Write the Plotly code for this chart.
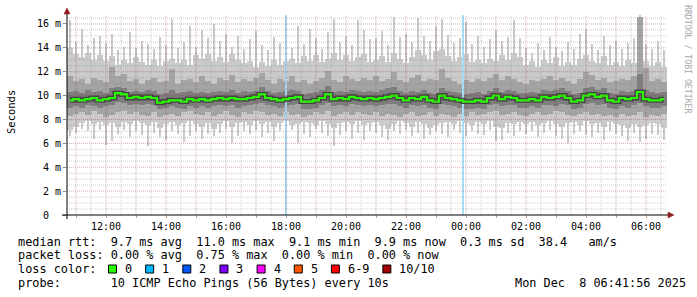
import pandas as pd
import plotly.graph_objects as go

# ---------------- data ----------------
START = "2025-12-07 10:42"
END = "2025-12-08 06:42"
SLOT_MIN = 12          # each value covers a 12-minute slot
Y_MAX = 16.75          # upper limit of the value axis (ms)

median_ms = [
    9.6, 9.7, 9.6, 9.7, 9.8, 9.6, 9.7, 9.8, 10.2, 10.1,
    9.8, 9.9, 9.8, 9.9, 9.8, 9.4, 9.5, 9.6, 9.6, 9.5,
    9.7, 9.6, 9.7, 9.6, 9.7, 9.8, 9.7, 9.8, 9.7, 9.7,
    9.8, 9.9, 10.1, 9.8, 9.7, 9.6, 9.7, 9.8, 9.9, 9.5,
    9.5, 9.6, 9.8, 10.1, 9.7, 9.8, 9.7, 9.9, 9.8, 9.7,
    9.8, 9.7, 9.8, 9.9, 10.0, 9.8, 9.6, 9.8, 9.7, 9.9,
    9.6, 9.5, 10.0, 9.8, 9.7, 9.6, 9.5, 9.5, 9.6, 9.5,
    9.8, 10.0, 9.7, 9.9, 9.8, 9.6, 9.6, 9.7, 9.6, 9.9,
    9.8, 9.9, 10.0, 9.8, 9.5, 9.6, 10.0, 10.1, 9.9, 10.0,
    9.6, 9.5, 9.8, 9.7, 9.8, 10.3, 9.7, 9.6, 9.6, 9.7,
]

# outer smoke (min..max ping, typical extent per slot)
smoke_hi1 = [
    14.0, 13.5, 13.2, 13.6, 13.0, 13.4, 12.9, 13.3, 12.6, 13.0,
    12.7, 13.2, 12.8, 12.6, 13.0, 12.5, 12.9, 13.1, 12.7, 13.0,
    12.6, 13.4, 13.1, 13.5, 12.9, 13.2, 12.8, 13.5, 13.0, 12.7,
    12.9, 12.4, 12.8, 12.5, 13.0, 12.6, 12.9, 13.1, 12.7, 13.3,
    12.9, 13.4, 12.8, 13.1, 13.6, 13.0, 13.4, 12.9, 13.2, 13.5,
    12.8, 13.0, 13.3, 12.8, 13.6, 13.1, 12.7, 13.2, 13.8, 13.4,
    13.0, 13.7, 13.9, 13.3, 12.9, 13.2, 13.5, 12.8, 13.0, 12.7,
    13.1, 12.9, 13.4, 13.0, 13.6, 13.2, 12.6, 12.9, 12.4, 13.0,
    12.7, 13.2, 12.5, 12.8, 12.6, 13.1, 13.4, 12.9, 12.7, 13.3,
    12.6, 12.8, 12.5, 13.0, 12.7, 14.0, 12.9, 12.5, 12.8, 12.4,
]
smoke_lo1 = [
    7.1, 7.4, 7.7, 7.9, 7.6, 7.8, 7.5, 7.7, 7.4, 7.8,
    7.6, 7.9, 7.7, 7.5, 7.8, 7.3, 7.6, 7.8, 7.5, 7.7,
    7.9, 7.6, 7.4, 7.7, 7.2, 7.6, 7.9, 7.4, 7.7, 7.8,
    7.5, 7.9, 7.6, 7.8, 7.4, 7.7, 7.9, 7.5, 7.6, 7.8,
    7.7, 7.5, 7.9, 7.6, 7.3, 7.7, 7.8, 7.6, 7.9, 7.5,
    7.7, 7.8, 7.5, 7.2, 7.6, 7.9, 7.7, 7.4, 7.8, 7.6,
    7.3, 7.5, 7.7, 7.8, 7.6, 7.9, 7.7, 7.5, 7.8, 7.6,
    7.9, 7.4, 7.3, 7.7, 7.6, 7.8, 7.6, 7.8, 7.5, 7.7,
    7.9, 7.6, 7.4, 7.7, 7.8, 7.5, 7.9, 7.6, 7.7, 7.4,
    7.8, 7.6, 7.5, 7.3, 7.6, 7.4, 7.5, 7.7, 7.6, 7.3,
]
# single-sample extremes inside each slot (thin spikes)
spike_peak = [
    16.3, 14.5, 15.6, 14.2, 14.8, 15.0, 14.4, 15.2, 13.8, 14.1,
    15.3, 14.0, 14.6, 14.3, 13.9, 14.9, 14.2, 16.4, 14.0, 14.5,
    15.8, 14.1, 15.5, 14.8, 16.0, 14.6, 15.2, 14.1, 15.0, 13.9,
    14.7, 15.4, 14.2, 13.8, 14.9, 14.4, 15.1, 14.0, 15.8, 14.3,
    15.6, 14.8, 13.9, 15.3, 16.4, 14.5, 15.0, 14.2, 16.3, 15.5,
    14.7, 14.8, 15.4, 14.2, 16.6, 14.9, 15.2, 14.5, 16.5, 15.0,
    14.6, 15.8, 16.4, 15.1, 14.4, 14.8, 16.2, 14.3, 15.0, 14.1,
    14.7, 15.5, 14.6, 14.9, 16.3, 14.8, 14.0, 13.6, 14.4, 13.8,
    14.9, 14.1, 13.7, 14.5, 13.9, 15.2, 15.6, 14.3, 13.8, 15.0,
    14.2, 14.6, 13.9, 14.4, 14.8, 16.8, 14.3, 13.9, 14.6, 13.8,
]
spike_trough = [
    6.6, 6.9, 7.2, 7.0, 6.4, 7.1, 5.9, 6.2, 6.8, 7.1,
    6.5, 7.0, 6.7, 5.8, 6.9, 6.5, 6.3, 7.0, 6.8, 6.1,
    6.6, 7.0, 6.4, 6.8, 6.6, 6.9, 7.2, 6.0, 6.6, 7.0,
    6.8, 7.1, 6.5, 6.9, 6.2, 7.0, 6.7, 7.1, 6.0, 6.8,
    6.5, 7.2, 6.9, 6.6, 5.8, 6.7, 7.0, 6.4, 6.9, 6.3,
    7.0, 6.9, 6.5, 6.3, 7.0, 6.8, 7.1, 6.6, 6.9, 6.4,
    6.7, 7.0, 6.8, 6.5, 7.1, 6.9, 6.6, 7.0, 6.8, 6.7,
    7.1, 6.2, 6.3, 6.9, 6.6, 7.0, 6.8, 7.0, 6.5, 6.9,
    7.1, 6.6, 6.4, 6.0, 6.8, 7.0, 6.7, 6.5, 6.9, 6.3,
    7.0, 6.8, 6.6, 6.2, 6.9, 6.1, 6.4, 6.8, 6.7, 6.3,
]
# middle smoke (2nd..9th ping)
smoke_hi2 = [
    11.6, 11.2, 11.4, 11.0, 11.5, 11.3, 11.1, 12.4, 11.6, 11.8,
    11.2, 11.4, 11.0, 11.3, 11.5, 11.1, 11.2, 12.2, 11.0, 11.3,
    11.4, 11.1, 11.6, 11.2, 11.0, 11.5, 11.3, 11.7, 11.1, 11.4,
    11.2, 11.5, 11.9, 11.3, 11.0, 11.4, 11.2, 11.6, 11.1, 11.3,
    11.0, 11.2, 11.5, 12.1, 11.3, 11.1, 11.6, 11.4, 11.2, 11.5,
    11.3, 11.6, 11.2, 11.4, 12.0, 11.3, 11.1, 11.5, 11.7, 11.2,
    11.4, 11.3, 12.2, 11.5, 11.2, 11.0, 11.3, 11.1, 11.4, 11.2,
    11.5, 11.8, 11.3, 11.6, 11.4, 11.1, 11.0, 11.3, 11.2, 11.4,
    11.6, 11.3, 11.5, 11.2, 11.0, 11.4, 12.0, 11.7, 11.3, 11.5,
    11.1, 11.2, 11.4, 11.3, 11.6, 16.6, 12.3, 11.2, 11.4, 11.1,
]
smoke_lo2 = [
    8.3, 8.5, 8.6, 8.4, 8.7, 8.5, 8.2, 8.4, 8.6, 8.7,
    8.5, 8.6, 8.4, 8.3, 8.6, 8.2, 8.4, 8.5, 8.3, 8.6,
    8.7, 8.5, 8.4, 8.6, 8.3, 8.5, 8.7, 8.4, 8.2, 8.6,
    8.5, 8.7, 8.6, 8.4, 8.5, 8.3, 8.6, 8.4, 8.5, 8.2,
    8.4, 8.6, 8.5, 8.7, 8.3, 8.5, 8.6, 8.4, 8.6, 8.5,
    8.4, 8.6, 8.3, 8.5, 8.4, 8.2, 8.5, 8.6, 8.3, 8.4,
    8.6, 8.3, 8.5, 8.4, 8.2, 8.5, 8.3, 8.6, 8.4, 8.5,
    8.6, 8.7, 8.4, 8.5, 8.6, 8.4, 8.3, 8.5, 8.6, 8.4,
    8.5, 8.7, 8.6, 8.4, 8.3, 8.5, 8.6, 8.4, 8.5, 8.3,
    8.4, 8.2, 8.5, 8.3, 8.4, 8.6, 8.2, 8.4, 8.3, 8.5,
]
# inner smoke (3rd..8th ping)
smoke_hi3 = [
    10.3, 10.4, 10.2, 10.5, 10.3, 10.4, 10.2, 10.6, 10.7, 10.6,
    10.3, 10.4, 10.3, 10.5, 10.4, 10.1, 10.2, 10.5, 10.2, 10.3,
    10.4, 10.2, 10.3, 10.2, 10.3, 10.4, 10.3, 10.5, 10.2, 10.4,
    10.3, 10.4, 10.7, 10.4, 10.2, 10.3, 10.4, 10.5, 10.4, 10.1,
    10.2, 10.3, 10.5, 10.8, 10.3, 10.4, 10.3, 10.5, 10.4, 10.3,
    10.4, 10.3, 10.5, 10.6, 10.7, 10.4, 10.2, 10.4, 10.3, 10.5,
    10.2, 10.1, 10.6, 10.4, 10.3, 10.2, 10.1, 10.2, 10.3, 10.1,
    10.4, 10.6, 10.3, 10.5, 10.4, 10.2, 10.2, 10.3, 10.2, 10.5,
    10.4, 10.5, 10.6, 10.4, 10.1, 10.2, 10.6, 10.7, 10.5, 10.6,
    10.2, 10.1, 10.4, 10.3, 10.4, 11.8, 10.5, 10.3, 10.2, 10.3,
]
smoke_lo3 = [
    9.0, 9.1, 9.0, 9.2, 9.1, 9.0, 9.1, 9.2, 9.5, 9.4,
    9.2, 9.3, 9.2, 9.3, 9.2, 8.9, 9.0, 9.1, 9.0, 8.9,
    9.1, 9.0, 9.1, 9.0, 9.1, 9.2, 9.1, 9.2, 9.0, 9.1,
    9.2, 9.3, 9.4, 9.2, 9.1, 9.0, 9.1, 9.2, 9.3, 8.9,
    8.9, 9.0, 9.2, 9.4, 9.1, 9.2, 9.1, 9.3, 9.2, 9.1,
    9.2, 9.1, 9.2, 9.3, 9.3, 9.1, 9.0, 9.2, 9.1, 9.2,
    9.0, 8.9, 9.3, 9.2, 9.1, 9.0, 8.9, 8.9, 9.0, 8.9,
    9.2, 9.3, 9.1, 9.2, 9.2, 9.0, 9.0, 9.1, 9.0, 9.2,
    9.2, 9.1, 9.3, 9.2, 8.9, 9.0, 9.3, 9.4, 9.2, 9.3,
    9.0, 8.9, 9.1, 9.0, 9.2, 9.4, 9.1, 9.0, 9.0, 9.1,
]
# samples with 1/10 packet loss (loss background)
loss_times = ["2025-12-07 18:00", "2025-12-07 23:54"]

y_tickvals = [0, 2, 4, 6, 8, 10, 12, 14, 16]
y_ticktext = ["0\u00a0\u00a0", "2 m", "4 m", "6 m", "8 m", "10 m", "12 m", "14 m", "16 m"]

loss_labels = ["0", "1", "2", "3", "4", "5", "6-9", "10/10"]
loss_colors = ["#26ff00", "#00b8ff", "#0059ff", "#7e00ff", "#ff00ff", "#ff5500", "#ff0000", "#a10000"]

stat_lines = [
    "median rtt:  9.7 ms avg  11.0 ms max  9.1 ms min  9.9 ms now  0.3 ms sd  38.4   am/s",
    "packet loss: 0.00 % avg  0.75 % max  0.00 % min  0.00 % now",
    "loss color:",
    "probe:       10 ICMP Echo Pings (56 Bytes) every 10s",
]
timestamp = "Mon Dec  8 06:41:56 2025"

# ---------------- figure ----------------
W, H = 697, 297
PL, PT, PW, PH = 67, 15, 600, 200
MONO = "DejaVu Sans Mono"


def fx(px):
    return (px - PL) / PW


def fy(py):
    return (PT + PH - py) / PH


times = pd.date_range(START, periods=len(median_ms), freq=f"{SLOT_MIN}min")
slot_ms = SLOT_MIN * 60 * 1000

fig = go.Figure()

# thin spikes (extremes)
fig.add_trace(go.Bar(
    x=times + pd.Timedelta(minutes=5), base=spike_trough,
    y=[p - t for p, t in zip(spike_peak, spike_trough)],
    width=2 * 60 * 1000, offset=0,
    marker=dict(color="#cacaca", line=dict(width=0)), hoverinfo="skip"))


def band(lo, hi, color):
    fig.add_trace(go.Bar(
        x=times, base=lo, y=[h - l for l, h in zip(lo, hi)],
        width=slot_ms, offset=0,
        marker=dict(color=color, line=dict(width=0)), hoverinfo="skip"))


band(smoke_lo1, smoke_hi1, "#cacaca")
band(smoke_lo2, smoke_hi2, "#a4a4a4")
band(smoke_lo3, smoke_hi3, "#7e7e7e")

centers = times + pd.Timedelta(minutes=SLOT_MIN / 2)
fig.add_trace(go.Scatter(x=centers, y=median_ms, mode="lines",
                         line=dict(color="#444444", width=5, shape="hvh"), hoverinfo="skip"))
fig.add_trace(go.Scatter(x=centers, y=median_ms, mode="lines",
                         line=dict(color="#26ff00", width=2.2, shape="hvh"), hoverinfo="skip"))

# loss background columns
fig.add_trace(go.Bar(
    x=pd.to_datetime(loss_times), base=[0] * len(loss_times), y=[Y_MAX] * len(loss_times),
    width=4 * 60 * 1000, offset=-2 * 60 * 1000,
    marker=dict(color="#a8e0fc", line=dict(width=0)), hoverinfo="skip"))

# ---------------- grid (drawn above data, like rrdtool) ----------------
MAJOR = "rgba(150,40,40,0.38)"
MINOR = "rgba(130,130,130,0.38)"
shapes = []
half_hours = pd.date_range("2025-12-07 11:00", END, freq="30min")
for t in half_hours:
    col = MAJOR if t.minute == 0 else MINOR
    shapes.append(dict(type="line", xref="x", yref="paper", x0=t, x1=t, y0=0, y1=1,
                       line=dict(color=col, width=1, dash="1px,1px"), layer="above"))
k = 1
while k * 0.5 <= Y_MAX:
    v = k * 0.5
    col = MAJOR if v in y_tickvals else MINOR
    shapes.append(dict(type="line", xref="paper", yref="y", x0=0, x1=1, y0=v, y1=v,
                       line=dict(color=col, width=1, dash="1px,1px"), layer="above"))
    k += 1

# axis lines + arrows
AX = "#000000"
ARROW = "#8f1a1a"
shapes += [
    dict(type="line", xref="paper", yref="paper", x0=fx(62), x1=fx(669), y0=0, y1=0,
         line=dict(color=AX, width=1), layer="above"),
    dict(type="line", xref="paper", yref="paper", x0=0, x1=0, y0=fy(219), y1=fy(12),
         line=dict(color=AX, width=1), layer="above"),
    dict(type="path", xref="paper", yref="paper", layer="above",
         path=f"M {fx(668)},{fy(212)} L {fx(674)},{fy(215)} L {fx(668)},{fy(218)} Z",
         fillcolor=ARROW, line=dict(color=ARROW, width=0.5)),
    dict(type="path", xref="paper", yref="paper", layer="above",
         path=f"M {fx(64)},{fy(14)} L {fx(67)},{fy(8)} L {fx(70)},{fy(14)} Z",
         fillcolor=ARROW, line=dict(color=ARROW, width=0.5)),
]

# loss color legend boxes
ann = []
CH = 7.15
bx = 108.5
for lab, colr in zip(loss_labels, loss_colors):
    shapes.append(dict(type="rect", xref="paper", yref="paper",
                       x0=fx(bx), x1=fx(bx + 8), y0=fy(273), y1=fy(265),
                       fillcolor=colr, line=dict(color="black", width=1), layer="above"))
    lx = bx + 14.5
    ann.append(dict(text=lab, x=fx(lx), y=fy(269), xref="paper", yref="paper",
                    xanchor="left", yanchor="middle", showarrow=False,
                    font=dict(family=MONO, size=11.85, color="black")))
    bx = lx + len(lab) * CH + 15.5

NB = "\u00a0"
for i, line in enumerate(stat_lines):
    ann.append(dict(text=line.replace(" ", NB), x=fx(16), y=fy(241.5 + i * 13.7),
                    xref="paper", yref="paper", xanchor="left", yanchor="middle",
                    showarrow=False, font=dict(family=MONO, size=11.85, color="black")))
ann.append(dict(text=timestamp.replace(" ", NB), x=fx(513), y=fy(241.5 + 3 * 13.7),
                xref="paper", yref="paper", xanchor="left", yanchor="middle",
                showarrow=False, font=dict(family=MONO, size=11.85, color="black")))
ann.append(dict(text="Seconds", x=fx(11), y=fy(112), xref="paper", yref="paper",
                xanchor="center", yanchor="middle", textangle=-90, showarrow=False,
                font=dict(family=MONO, size=10.5, color="black")))
ann.append(dict(text="RRDTOOL / TOBI OETIKER".replace(" ", NB), x=fx(688), y=fy(59),
                xref="paper", yref="paper", xanchor="center", yanchor="middle",
                textangle=90, showarrow=False,
                font=dict(family=MONO, size=8.2, color="#a8a8a8")))

hour_ticks = pd.date_range("2025-12-07 11:00", "2025-12-08 06:00", freq="1h")
hour_text = [t.strftime("%H:%M") if t.hour % 2 == 0 else "" for t in hour_ticks]

fig.update_layout(
    width=W, height=H, margin=dict(l=PL, r=W - PL - PW, t=PT, b=H - PT - PH),
    paper_bgcolor="white", plot_bgcolor="white", barmode="overlay", bargap=0,
    showlegend=False, shapes=shapes, annotations=ann,
    font=dict(family=MONO, size=10, color="black"),
)
fig.update_xaxes(range=[pd.Timestamp(START), pd.Timestamp(END)], tickmode="array",
                 tickvals=hour_ticks, ticktext=hour_text, showgrid=False, zeroline=False,
                 showline=False, ticks="outside", ticklen=2, tickcolor="#c49a9a",
                 tickfont=dict(family=MONO, size=10, color="#000000"), fixedrange=True)
fig.update_yaxes(range=[0, Y_MAX], tickmode="array", tickvals=y_tickvals, ticktext=y_ticktext,
                 showgrid=False, zeroline=False, showline=False, ticks="outside", ticklen=3,
                 tickcolor="#8c8c8c",
                 tickfont=dict(family=MONO, size=10, color="#000000"), fixedrange=True)

fig.write_html("out.html")
